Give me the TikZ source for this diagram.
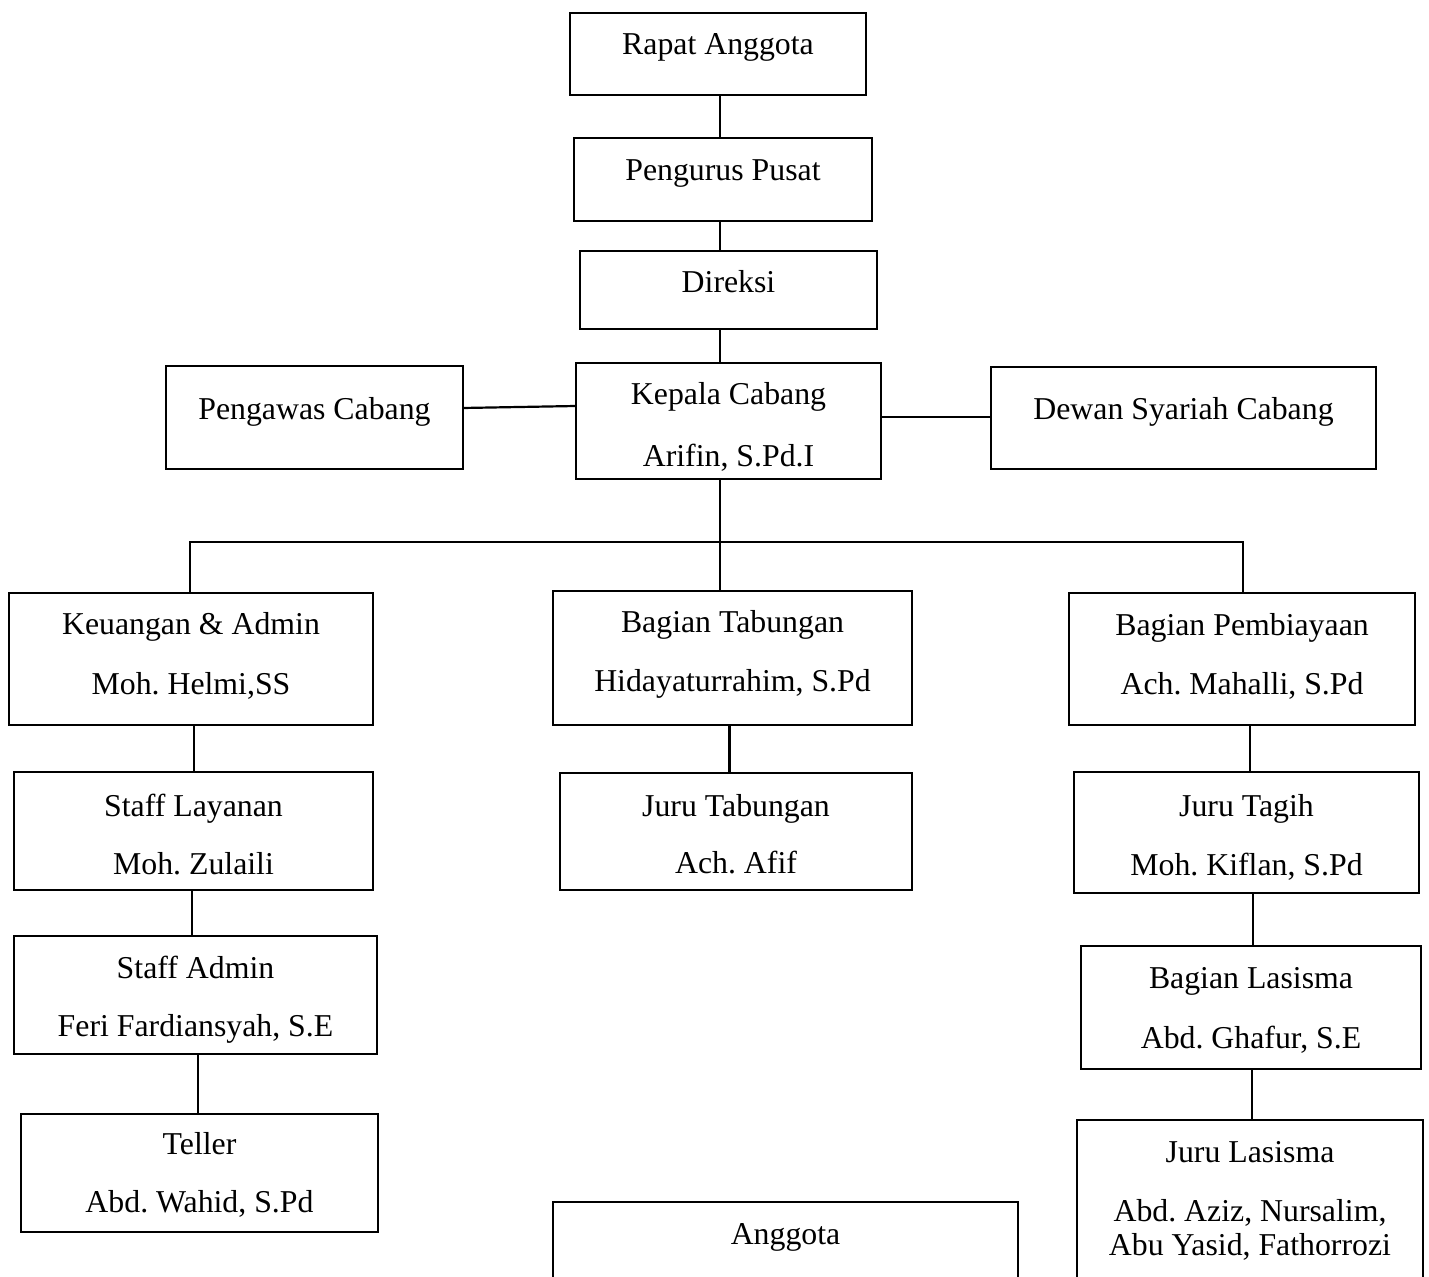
\documentclass[tikz,border=0pt]{standalone}
\usepackage{fontspec}
\setmainfont{Liberation Serif}
\frenchspacing
\newcommand\obox[5]{\node[box, minimum width={(#4-#2)*0.5pt}, minimum height={(#5-#3)*0.5pt}] (#1) at ({(#2+#4)/2},{(#3+#5)/2}) {};}
\begin{document}
\begin{tikzpicture}[x=0.5pt,y=-0.5pt,
  box/.style={draw, line width=1.1pt, inner sep=0pt, outer sep=0pt, rectangle},
  lbl/.style={anchor=base, inner sep=0pt, font=\fontsize{15.9}{17}\selectfont\frenchspacing},
  conn/.style={line width=1.1pt}]
\useasboundingbox (0,0) rectangle (1429,1277);
\clip (0,0) rectangle (1429,1277);
\fill[white] (0,0) rectangle (1429,1277);
% boxes
\obox{ra}{570}{13}{866}{95}
\obox{pp}{574}{138}{872}{221}
\obox{dr}{580}{251}{877}{329}
\obox{kc}{576}{363}{881}{479}
\obox{pc}{166}{366}{463}{469}
\obox{ds}{991}{367}{1376}{469}
\obox{ka}{9}{593}{373}{725}
\obox{bt}{553}{591}{912}{725}
\obox{bp}{1069}{593}{1415}{725}
\obox{sl}{14}{772}{373}{890}
\obox{jt}{560}{773}{912}{890}
\obox{jg}{1074}{772}{1419}{893}
\obox{sa}{14}{936}{377}{1054}
\obox{bl}{1081}{946}{1421}{1069}
\obox{te}{21}{1114}{378}{1232}
\obox{jl}{1077}{1120}{1423}{1300}
\obox{ag}{553}{1202}{1018}{1300}
% texts
\node[lbl] (ra-t) at (718,55) {Rapat Anggota};
\node[lbl] (pp-t) at (723,181) {Pengurus Pusat};
\node[lbl] (dr-t) at (728.5,293) {Direksi};
\node[lbl] (kc-t1) at (728.5,405) {Kepala Cabang};
\node[lbl] (kc-t2) at (728.5,467) {Arifin, S.Pd.I};
\node[lbl] (pc-t) at (314.5,420) {Pengawas Cabang};
\node[lbl] (ds-t) at (1183.5,420) {Dewan Syariah Cabang};
\node[lbl] (ka-t1) at (191,635) {Keuangan \& Admin};
\node[lbl] (ka-t2) at (191,695) {Moh. Helmi,SS};
\node[lbl] (bt-t1) at (732.5,633) {Bagian Tabungan};
\node[lbl] (bt-t2) at (732.5,692) {Hidayaturrahim, S.Pd};
\node[lbl] (bp-t1) at (1242,636) {Bagian Pembiayaan};
\node[lbl] (bp-t2) at (1242,695) {Ach. Mahalli, S.Pd};
\node[lbl] (sl-t1) at (193.5,816) {Staff Layanan};
\node[lbl] (sl-t2) at (193.5,874) {Moh. Zulaili};
\node[lbl] (jt-t1) at (736,816) {Juru Tabungan};
\node[lbl] (jt-t2) at (736,873) {Ach. Afif};
\node[lbl] (jg-t1) at (1246.5,816) {Juru Tagih};
\node[lbl] (jg-t2) at (1246.5,875) {Moh. Kiflan, S.Pd};
\node[lbl] (sa-t1) at (195.5,978) {Staff Admin};
\node[lbl] (sa-t2) at (195.5,1036) {Feri Fardiansyah, S.E};
\node[lbl] (bl-t1) at (1251,988) {Bagian Lasisma};
\node[lbl] (bl-t2) at (1251,1048) {Abd. Ghafur, S.E};
\node[lbl] (te-t1) at (199.5,1154) {Teller};
\node[lbl] (te-t2) at (199.5,1212) {Abd. Wahid, S.Pd};
\node[lbl] (jl-t1) at (1250,1162) {Juru Lasisma};
\node[lbl] (jl-t2) at (1250,1221) {Abd. Aziz, Nursalim,};
\node[lbl] (jl-t3) at (1250,1255) {Abu Yasid, Fathorrozi};
\node[lbl] (ag-t) at (785.5,1244) {Anggota};
% connector helpers
\coordinate (spine) at (720,0);
\coordinate (busL) at (190,542);
\coordinate (busM) at (720,542);
\coordinate (busR) at (1243,542);
\coordinate (xa) at (194,0);
\coordinate (xb) at (192,0);
\coordinate (xc) at (198,0);
\coordinate (xd) at (729.5,0);
\coordinate (xe) at (1250,0);
\coordinate (xf) at (1253,0);
\coordinate (xg) at (1252,0);
% connectors
\draw[conn] (spine |- ra.south) -- (spine |- pp.north);
\draw[conn] (spine |- pp.south) -- (spine |- dr.north);
\draw[conn] (spine |- dr.south) -- (spine |- kc.north);
\draw[conn] ([yshift=4.75pt]pc.east) -- ([yshift=7.5pt]kc.west);
\draw[conn] ([yshift=2pt]kc.east) -- ([yshift=0.5pt]ds.west);
\draw[conn] (busM |- kc.south) -- (busM |- bt.north);
\draw[conn] (busL |- ka.north) -- (busL) -- (busR) -- (busR |- bp.north);
\draw[conn] (xa |- ka.south) -- (xa |- sl.north);
\draw[conn] (xb |- sl.south) -- (xb |- sa.north);
\draw[conn] (xc |- sa.south) -- (xc |- te.north);
\draw[conn] (xd |- bt.south) -- (xd |- jt.north);
\draw[conn] (xe |- bp.south) -- (xe |- jg.north);
\draw[conn] (xf |- jg.south) -- (xf |- bl.north);
\draw[conn] (xg |- bl.south) -- (xg |- jl.north);
\end{tikzpicture}
\end{document}
